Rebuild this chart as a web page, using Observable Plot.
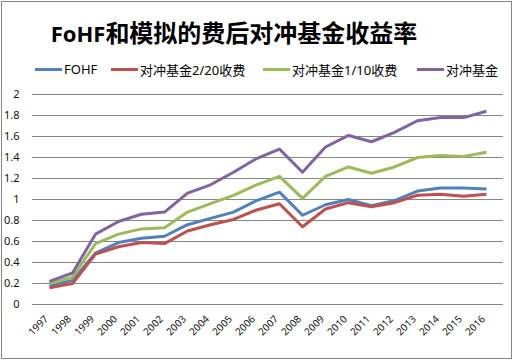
<!DOCTYPE html>
<html>
<head>
<meta charset="utf-8">
<script src="https://cdn.jsdelivr.net/npm/d3@7"></script>
<script src="https://cdn.jsdelivr.net/npm/@observablehq/plot@0.6"></script>
<style>
  html, body { margin: 0; padding: 0; background: #fff; }
  #frame { position: relative; width: 514px; height: 361px; overflow: hidden; font-family: "Noto Sans", "Noto Sans CJK SC", sans-serif; }
  #border { position: absolute; left: 1px; top: 1px; width: 511px; height: 358px; border: 1px solid #868686; box-sizing: border-box; }
  #title { position: absolute; left: 0; top: 18px; width: 468px; text-align: center; font-size: 24px; font-weight: bold; color: #000; line-height: 28px; font-family: "Noto Sans CJK SC", sans-serif; white-space: nowrap; }
  #title .lat { font-family: "Noto Sans", sans-serif; font-size: 22px; }
  .leg { position: absolute; top: 60px; height: 18px; display: flex; align-items: center; font-size: 13px; color: #000; white-space: nowrap; }
  .leg .sw { width: 27px; height: 3px; margin-right: 2px; }
  #chart { position: absolute; left: 0; top: 84px; }
</style>
</head>
<body>
<div id="frame">
  <div id="title"></div>
  <div id="legend"></div>
  <div id="chart"></div>
  <div id="border"></div>
</div>
<script>
const titleText = "FoHF和模拟的费后对冲基金收益率";
const years = ["1997","1998","1999","2000","2001","2002","2003","2004","2005","2006","2007","2008","2009","2010","2011","2012","2013","2014","2015","2016"];
const seriesNames = ["FOHF", "对冲基金2/20收费", "对冲基金1/10收费", "对冲基金"];
const seriesColors = ["#4F81BD", "#C0504D", "#9BBB59", "#8064A2"];
const fohf  = [0.18,0.23,0.49,0.59,0.63,0.65,0.76,0.82,0.88,0.99,1.07,0.85,0.95,1.00,0.94,0.99,1.08,1.11,1.11,1.10];
const hf220 = [0.16,0.20,0.48,0.55,0.59,0.58,0.70,0.76,0.81,0.90,0.96,0.74,0.91,0.97,0.93,0.97,1.04,1.05,1.03,1.05];
const hf110 = [0.20,0.26,0.58,0.67,0.72,0.73,0.88,0.96,1.04,1.14,1.22,1.01,1.22,1.31,1.25,1.31,1.40,1.42,1.41,1.45];
const hf    = [0.22,0.30,0.67,0.79,0.86,0.88,1.06,1.14,1.26,1.39,1.48,1.26,1.50,1.61,1.55,1.64,1.75,1.78,1.78,1.84];
const yTicks = [0,0.2,0.4,0.6,0.8,1,1.2,1.4,1.6,1.8,2];

const allSeries = [fohf, hf220, hf110, hf];
const rows = [];
allSeries.forEach((vals, i) => vals.forEach((v, j) => rows.push({year: years[j], value: v, series: seriesNames[i]})));

// title
const t = document.getElementById("title");
t.innerHTML = '<span class="lat">FoHF</span>' + titleText.slice(4);

// legend
const legLeft = [35, 111, 263, 417];
const legend = document.getElementById("legend");
seriesNames.forEach((name, i) => {
  const d = document.createElement("div");
  d.className = "leg";
  d.style.left = legLeft[i] + "px";
  d.innerHTML = `<span class="sw" style="background:${seriesColors[i]}"></span><span>${name}</span>`;
  legend.appendChild(d);
});

const chart = Plot.plot({
  width: 514,
  height: 277,
  marginTop: 10,
  marginBottom: 57,
  marginLeft: 32,
  marginRight: 11,
  style: {fontFamily: "'Noto Sans', sans-serif", fontSize: "11px", color: "#111", background: "transparent"},
  x: {type: "point", domain: years, padding: 0.5, label: null, axis: null},
  y: {domain: [0, 2], ticks: yTicks, tickFormat: d => String(+d.toFixed(1)), label: null, tickSize: 0, tickPadding: 13},
  color: {domain: seriesNames, range: seriesColors},
  marks: [
    Plot.ruleY(yTicks, {stroke: "#868686", strokeWidth: 1}),
    Plot.line(rows, {x: "year", y: "value", z: "series", stroke: "series", strokeWidth: 3, strokeLinejoin: "round", strokeLinecap: "butt"}),
    Plot.text(years, {x: d => d, y: 0, text: d => d, rotate: -45, textAnchor: "end", dx: -3, dy: 13, fontSize: 10, fill: "#111"})
  ]
});
document.getElementById("chart").appendChild(chart);
</script>
</body>
</html>
